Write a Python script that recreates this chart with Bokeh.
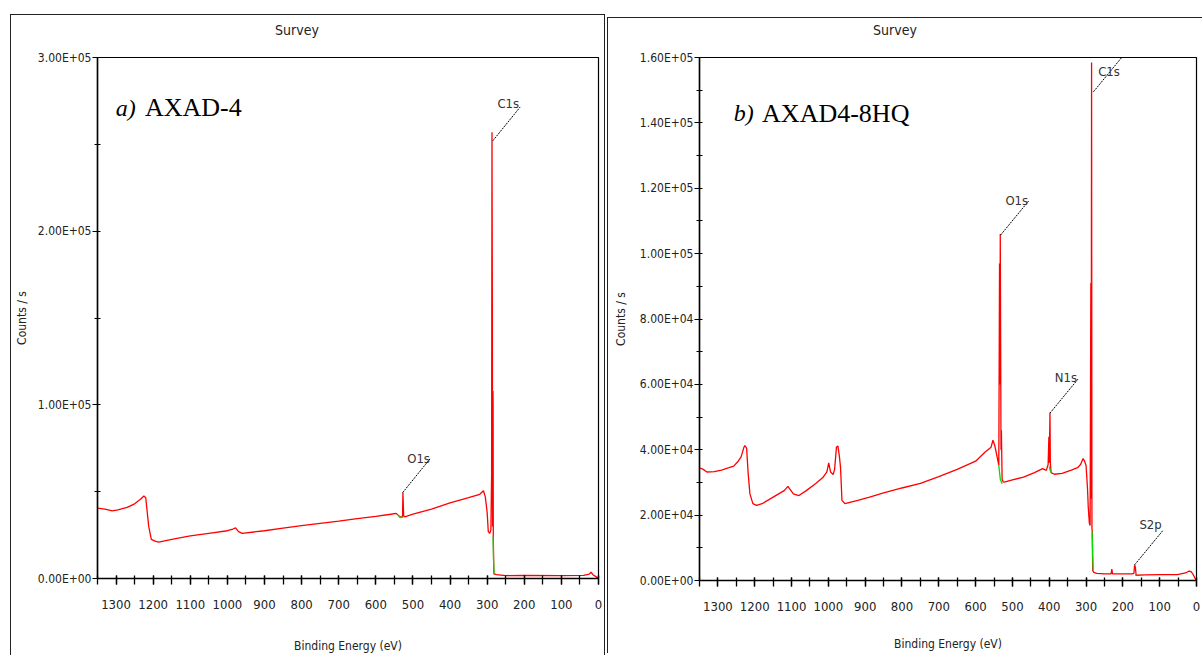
from bokeh.plotting import figure
from bokeh.layouts import row, column
from bokeh.models import Range1d, FixedTicker, Label, Div
from bokeh.core.properties import value
from bokeh.embed import file_html
from bokeh.resources import INLINE

# ---------------- data ----------------
X_TICKS = list(range(0, 1301, 100))
X_MINOR = list(range(0, 1351, 50))

# panel a) AXAD-4
A_Y_TICKS = [0, 100000, 200000, 300000]
A_Y_MINOR = [0, 50000, 100000, 150000, 200000, 250000, 300000]
A_BE = [1350, 1330, 1310, 1295, 1270, 1250, 1235, 1225, 1220, 1212, 1205, 1195, 1185,
        1150, 1100, 1050, 1000, 985, 978, 970, 960, 900, 850, 800, 750, 700, 650, 600,
        560, 545, 540, 535, 528, 527, 525, 522, 500, 450, 400, 350, 320, 310, 305, 300,
        297, 293, 290, 288, 287, 286, 285.5, 284.5, 284, 283.5, 282, 275, 250, 200, 100,
        40, 25, 20, 15, 5, 0]
A_CPS = [40500, 40000, 39000, 39500, 41000, 43000, 45500, 47500, 46500, 30000, 22500, 21500, 21000,
         22500, 24500, 26000, 27500, 28500, 29200, 27000, 26000, 27500, 29000, 30500, 31800, 33000, 34500, 35800,
         37000, 37500, 36500, 35500, 35500, 49500, 36000, 35500, 37000, 40000, 43500, 46500, 48500, 50500, 47000, 38000,
         27000, 26000, 28000, 60000, 257000, 150000, 30000, 108000, 100000, 24000, 2700, 2200, 1700, 1800, 1700,
         1800, 2500, 3600, 2200, 800, 0]
A_BG = [([540, 534, 526], [36500, 35000, 35300]),
        ([284, 283, 281.5], [24000, 12000, 2700])]
A_PEAKS = ["C1s", "O1s"]
A_PEAK_BE = [285, 528]
A_PEAK_Y = [252000, 49400]

# panel b) AXAD4-8HQ
B_Y_TICKS = list(range(0, 160001, 20000))
B_Y_MINOR = list(range(0, 160001, 10000))
B_BE = [1350, 1340, 1330, 1310, 1290, 1270, 1257, 1245, 1237, 1230, 1227, 1222, 1218, 1213, 1205,
        1195, 1180, 1150, 1120, 1110, 1105, 1095, 1080, 1060, 1035, 1015, 1004, 999, 994, 987,
        983, 978, 974, 970, 967, 963, 955, 920, 888, 850, 800, 750, 700, 650, 600, 574, 558,
        553, 548, 540, 537, 535, 534, 533, 531, 530, 528, 525, 522, 500, 470, 440, 418, 408,
        403, 401, 400, 398, 397, 395, 386, 365, 340, 323, 315, 308, 304, 300, 296, 294, 291,
        289, 287, 286, 285, 284, 283, 282, 279, 271, 250, 232, 230, 228, 200, 175, 170, 168,
        166, 164, 140, 100, 52, 30, 20, 15, 10, 5, 0]
B_CPS = [34500, 34000, 33200, 33300, 33800, 34500, 35000, 36500, 37800, 40500, 41300, 40500, 33000, 26500, 23500,
         23000, 23500, 25500, 27500, 28800, 28000, 26500, 26000, 27500, 29600, 31500, 33200, 36000, 33200, 32400,
         34000, 40800, 41100, 38000, 34700, 24500, 23500, 24500, 25500, 26800, 28300, 29700, 31800, 34000, 36500, 39300, 40800,
         42900, 41300, 37000, 35200, 97000, 60000, 106000, 40000, 46000, 31000, 30200, 30100, 30800, 31600, 33000, 34200, 33700,
         35500, 44000, 36000, 51400, 36000, 33000, 32500, 32800, 33800, 34500, 35500, 37300, 36500, 35200, 28000, 22400, 17500,
         16800, 91000, 25000, 158500, 16000, 14800, 3100, 2500, 2200, 2000, 2000, 3500, 2000, 2000, 2000, 2200, 4800,
         4000, 1600, 1700, 1800, 1800, 2300, 2900, 2700, 2000, 900, 0]
B_BG = [([537, 533, 528], [35200, 31000, 29600]),
        ([400, 397, 393], [34900, 33500, 32800]),
        ([283.5, 282, 280.5], [14800, 8000, 3100]),
        ([166, 163], [1700, 1500])]
B_PEAKS = ["C1s", "O1s", "N1s", "S2p"]
B_PEAK_BE = [280, 532, 398, 168]
B_PEAK_Y = [149500, 105700, 51200, 4800]

TITLE = "Survey"
NARROW = "DejaVu Sans Condensed, Liberation Sans, sans-serif"
SERIF = "Liberation Serif"


def make_panel(width, height, left, right, top, bottom, ylab_standoff, xlab_standoff,
               ymax, yticks, yminor, be, cps, bgs, peaks, peak_be, peak_y, dx, dy, text_dy,
               tag, name, tag_x, name_x, tag_y):
    p = figure(width=width, height=height, output_backend="svg", toolbar_location=None,
               x_range=Range1d(1350, 0), y_range=Range1d(0, ymax),
               min_border_left=left, min_border_right=right,
               min_border_top=top, min_border_bottom=bottom,
               background_fill_color="white", border_fill_color="white", margin=0)
    p.grid.visible = False
    p.outline_line_color = "black"
    p.outline_line_width = 1.2

    xa = p.xaxis[0]
    xa.ticker = FixedTicker(ticks=X_TICKS, minor_ticks=X_MINOR)
    xa.axis_label = "Binding Energy (eV)"
    xa.axis_label_text_font = NARROW
    xa.axis_label_text_font_size = "12px"
    xa.axis_label_text_font_style = "normal"
    xa.axis_label_text_color = "#222"
    xa.axis_label_standoff = xlab_standoff
    xa.major_label_text_font = NARROW
    xa.major_label_text_font_size = "13px"
    xa.major_label_text_color = "#222"
    xa.major_label_standoff = 15
    xa.major_tick_in = 3
    xa.major_tick_out = 6
    xa.minor_tick_in = 3
    xa.minor_tick_out = 6
    xa.axis_line_width = 1.5
    xa.major_tick_line_width = 1.3
    xa.minor_tick_line_width = 1.3

    ya = p.yaxis[0]
    ya.ticker = FixedTicker(ticks=yticks, minor_ticks=yminor)
    ya.major_label_overrides = {v: f"{v:.2E}" for v in yticks}
    ya.axis_label = "Counts / s"
    ya.axis_label_text_font = NARROW
    ya.axis_label_text_font_size = "12px"
    ya.axis_label_text_font_style = "normal"
    ya.axis_label_text_color = "#222"
    ya.axis_label_standoff = ylab_standoff
    ya.major_label_text_font = NARROW
    ya.major_label_text_font_size = "12px"
    ya.major_label_text_color = "#222"
    ya.major_label_standoff = 1
    ya.major_tick_in = 0
    ya.major_tick_out = 5
    ya.minor_tick_in = 3
    ya.minor_tick_out = 3
    ya.axis_line_width = 1.5

    p.line(be, cps, line_color="#ff0000", line_width=1.3)
    for bx, by in bgs:
        p.line(bx, by, line_color="#00dd00", line_width=1.3)

    x1 = [b - dx for b in peak_be]
    y1 = [v + dy for v in peak_y]
    p.segment(peak_be, peak_y, x1, y1, line_color="black", line_width=1, line_dash="2 1")
    tx = [b - dx * 0.17 for b in peak_be]
    ty = [y + d for y, d in zip(y1, text_dy)]
    p.text(tx, ty, text=peaks, text_font=value(NARROW), text_font_size="13px",
           text_color="#333", text_align="left", text_baseline="middle")

    p.add_layout(Label(x=tag_x, y=tag_y, text=tag, text_font=SERIF, text_font_size="24px",
                       text_font_style="italic", text_baseline="middle", text_color="black"))
    p.add_layout(Label(x=name_x, y=tag_y, text=name, text_font=SERIF, text_font_size="26px",
                       text_baseline="middle", text_color="black"))
    return p


def title_div(width, height):
    return Div(text=TITLE, width=width, height=height, margin=0,
               styles={"font-family": NARROW, "font-size": "14px", "color": "#222",
                       "text-align": "center", "line-height": f"{height}px"})


pa = make_panel(593, 610, 86, 6, 12, 77, 6, 27,
                300000, A_Y_TICKS, A_Y_MINOR, A_BE, A_CPS, A_BG,
                A_PEAKS, A_PEAK_BE, A_PEAK_Y, 74, 19500, [2300, 0],
                "a)", "AXAD-4", 1301, 1222, 271000)
pb = make_panel(594, 611, 91, 6, 15, 73, 9, 23,
                160000, B_Y_TICKS, B_Y_MINOR, B_BE, B_CPS, B_BG,
                B_PEAKS, B_PEAK_BE, B_PEAK_Y, 76, 10400, [-4300, 0, 600, 1800],
                "b)", "AXAD4-8HQ", 1257, 1180, 143000)

ca = column(title_div(572, 30), pa, spacing=0, margin=(14, 0, 0, 10),
            styles={"border-top": "1px solid #222", "border-left": "1px solid #222",
                    "border-right": "1px solid #222"})
cb = column(title_div(574, 24), pb, spacing=0, margin=(17, 0, 0, 2),
            styles={"border-top": "1px solid #222", "border-left": "1px solid #222"})

layout = row(ca, cb, spacing=0)
open("out.html", "w").write(file_html(layout, INLINE))
